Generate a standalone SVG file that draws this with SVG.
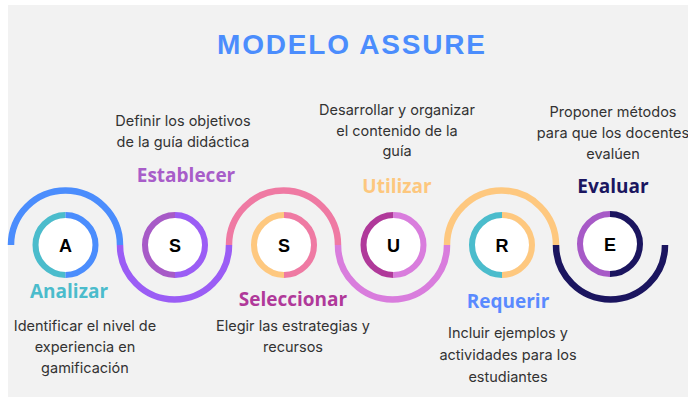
<svg xmlns="http://www.w3.org/2000/svg" width="688" height="397" viewBox="0 0 688 397">
<style>
.title{font-family:"Liberation Sans",Arial,sans-serif;font-weight:700;font-size:28px;fill:#4b8dfd}
.lbl{font-family:"Open Sans","Noto Sans",sans-serif;font-weight:700;font-size:19px;text-anchor:middle}
.desc{font-family:Inter,"Noto Sans",sans-serif;font-size:14.5px;fill:#333;text-anchor:middle}
.let{font-family:"Liberation Sans",Arial,sans-serif;font-weight:700;font-size:18px;fill:#000;text-anchor:middle}
.wave{fill:none;stroke-width:6.5}
.ring{fill:none;stroke-width:6}
.inner{fill:#fff}
</style>
<rect x="0" y="0" width="688" height="397" fill="#ffffff"/>
<rect x="8" y="5" width="680" height="392" fill="#f2f2f2"/>
<text class="title" x="217" y="54" textLength="268" lengthAdjust="spacing">MODELO ASSURE</text>
<g id="connectors">
<path class="wave" stroke="#4b8dfd" d="M11,245 A54.5,54.5 0 0 1 120,245"/>
<path class="wave" stroke="#9b5df5" d="M120,245 A54.5,54.5 0 0 0 229,245"/>
<path class="wave" stroke="#ef7aa3" d="M229,245 A54.5,54.5 0 0 1 338,245"/>
<path class="wave" stroke="#d97ddd" d="M338,245 A54.5,54.5 0 0 0 447,245"/>
<path class="wave" stroke="#fec87f" d="M447,245 A54.5,54.5 0 0 1 556,245"/>
<path class="wave" stroke="#1b155f" d="M556,245 A54.5,54.5 0 0 0 665,245"/>
</g>
<g id="node-a">
<circle class="inner" cx="65.5" cy="245" r="27"/>
<path class="ring" stroke="#4bbccc" d="M65.5,215 A30,30 0 0 0 65.5,275"/>
<path class="ring" stroke="#4b8dfd" d="M65.5,215 A30,30 0 0 1 65.5,275"/>
<text class="let" x="65.5" y="251.5">A</text>
<text class="lbl" x="69" y="298" fill="#4bbccc">Analizar</text>
<text class="desc" x="85" y="331">Identificar el nivel de</text>
<text class="desc" x="85" y="352">experiencia en</text>
<text class="desc" x="85" y="373">gamificación</text>
</g>
<g id="node-s1">
<circle class="inner" cx="175" cy="245" r="27"/>
<path class="ring" stroke="#a75ac7" d="M175,215 A30,30 0 0 0 175,275"/>
<path class="ring" stroke="#9b5df5" d="M175,215 A30,30 0 0 1 175,275"/>
<text class="let" x="175" y="251.5">S</text>
<text class="lbl" x="186" y="182" fill="#a85dc9">Establecer</text>
<text class="desc" x="183" y="126">Definir los objetivos</text>
<text class="desc" x="183" y="147">de la guía didáctica</text>
</g>
<g id="node-s2">
<circle class="inner" cx="284" cy="245" r="27"/>
<path class="ring" stroke="#fec87f" d="M284,215 A30,30 0 0 0 284,275"/>
<path class="ring" stroke="#ef7aa3" d="M284,215 A30,30 0 0 1 284,275"/>
<text class="let" x="284" y="251.5">S</text>
<text class="lbl" x="293" y="306" fill="#b0399a">Seleccionar</text>
<text class="desc" x="293" y="331">Elegir las estrategias y</text>
<text class="desc" x="293" y="352">recursos</text>
</g>
<g id="node-u">
<circle class="inner" cx="393.5" cy="245" r="27"/>
<path class="ring" stroke="#b0399a" d="M393.5,215 A30,30 0 0 0 393.5,275"/>
<path class="ring" stroke="#d97ddd" d="M393.5,215 A30,30 0 0 1 393.5,275"/>
<text class="let" x="393.5" y="251.5">U</text>
<text class="lbl" x="397" y="193" fill="#fdc77e">Utilizar</text>
<text class="desc" x="397" y="115">Desarrollar y organizar</text>
<text class="desc" x="397" y="135.5">el contenido de la</text>
<text class="desc" x="397" y="156">guía</text>
</g>
<g id="node-r">
<circle class="inner" cx="502" cy="245" r="27"/>
<path class="ring" stroke="#4bbccc" d="M502,215 A30,30 0 0 0 502,275"/>
<path class="ring" stroke="#fec87f" d="M502,215 A30,30 0 0 1 502,275"/>
<text class="let" x="502" y="251.5">R</text>
<text class="lbl" x="508" y="308" fill="#5a8aff">Requerir</text>
<text class="desc" x="508" y="338">Incluir ejemplos y</text>
<text class="desc" x="508" y="360">actividades para los</text>
<text class="desc" x="508" y="382">estudiantes</text>
</g>
<g id="node-e">
<circle class="inner" cx="610" cy="244" r="27"/>
<path class="ring" stroke="#a75ac7" d="M610,214 A30,30 0 0 0 610,274"/>
<path class="ring" stroke="#1b155f" d="M610,214 A30,30 0 0 1 610,274"/>
<text class="let" x="610" y="250.5">E</text>
<text class="lbl" x="613" y="193" fill="#1b1660">Evaluar</text>
<text class="desc" x="613" y="117">Proponer métodos</text>
<text class="desc" x="613" y="138">para que los docentes</text>
<text class="desc" x="613" y="159">evalúen</text>
</g>
</svg>
